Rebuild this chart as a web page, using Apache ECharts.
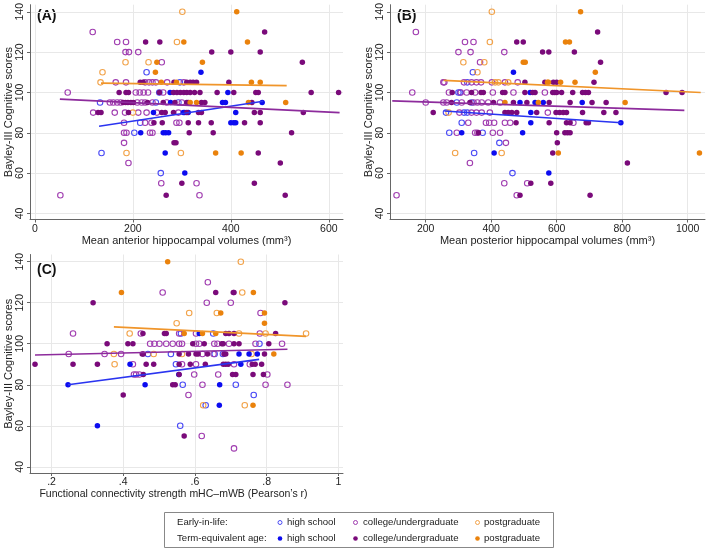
<!DOCTYPE html>
<html><head><meta charset="utf-8">
<script src="https://cdn.jsdelivr.net/npm/echarts@6/dist/echarts.min.js"></script>
<style>html,body{margin:0;padding:0;background:#fff}#c{width:709px;height:550px}</style>
</head><body><div id="c"></div>
<script>
// ---------- DATA ----------
const yTicks = [40, 60, 80, 100, 120, 140];
const xTicksA = [0, 200, 400, 600];
const xTicksB = [200, 400, 600, 800, 1000];
const xTicksC = [0.2, 0.4, 0.6, 0.8, 1.0];
const xTickLabelsC = ['.2', '.4', '.6', '.8', '1'];
const yTitle = 'Bayley-III Cognitive scores';
const xTitleA = 'Mean anterior hippocampal volumes (mm³)';
const xTitleB = 'Mean posterior hippocampal volumes (mm³)';
const xTitleC = 'Functional connectivity strength mHC–mWB (Pearson\u2019s r)';
const panelLabels = ['(A)', '(B)', '(C)'];
const groupNames = ['high school', 'college/undergraduate', 'postgraduate'];
const rowNames = ['Early-in-life:', 'Term-equivalent age:'];

// Panel A: [volume, score]
const A_earlyHigh = [[228,110],[296,105],[254,100],[133,95],[247,95],[293,95],[215,85],[203,80],[136,70],[257,60]];
const A_earlyCollege = [[118,130],[168,125],[186,125],[185,120],[192,120],[211,120],[259,115],[165,105],[186,105],[225,105],[233,105],[240,105],[247,105],[270,105],[304,105],[67,100],[206,100],[214,100],[222,100],[231,100],[262,100],[153,95],[160,95],[168,95],[175,95],[209,95],[218,95],[225,95],[240,95],[269,95],[300,95],[119,90],[163,90],[184,90],[211,90],[228,90],[249,90],[293,90],[182,85],[225,85],[238,85],[289,85],[295,85],[182,80],[187,80],[235,80],[240,80],[182,75],[191,65],[258,55],[330,55],[52,49],[336,49]];
const A_earlyPost = [[301,140],[290,125],[185,115],[232,115],[138,110],[134,105],[200,90],[187,70],[298,70]];
const A_termHigh = [[339,110],[276,100],[394,100],[277,95],[383,95],[389,95],[464,95],[242,90],[303,90],[306,90],[313,90],[410,90],[400,85],[406,85],[410,85],[216,80],[262,80],[267,80],[273,80],[266,70],[306,60]];
const A_termCollege = [[469,130],[226,125],[255,125],[361,120],[400,120],[460,120],[546,115],[215,105],[221,105],[284,105],[310,105],[317,105],[323,105],[330,105],[396,105],[172,100],[186,100],[191,100],[254,100],[283,100],[290,100],[297,100],[304,100],[310,100],[317,100],[326,100],[337,100],[372,100],[406,100],[451,100],[456,100],[564,100],[620,100],[180,95],[185,95],[190,95],[196,95],[201,95],[230,95],[262,95],[286,95],[310,95],[313,95],[340,95],[347,95],[443,95],[129,90],[135,90],[191,90],[259,90],[266,90],[283,90],[310,90],[334,90],[340,90],[448,90],[460,90],[548,90],[243,85],[260,85],[313,85],[334,85],[360,85],[428,85],[460,85],[315,80],[364,80],[524,80],[284,75],[288,75],[456,70],[501,65],[300,55],[448,55],[268,49],[511,49]];
const A_termPost = [[412,140],[304,125],[434,125],[249,115],[342,115],[246,110],[258,105],[289,105],[442,105],[460,105],[317,95],[330,95],[436,95],[512,95],[369,70],[421,70]];
const A_fitHigh = [[131,83.2],[466,95.6]];
const A_fitCollege = [[51,96.7],[622,90.0]];
const A_fitPost = [[135,104.6],[514,103.4]];

// Panel B
const B_earlyHigh = [[344,110],[327,105],[300,100],[305,100],[295,95],[340,95],[262,90],[317,90],[327,90],[310,85],[272,80],[374,80],[425,75],[348,70],[465,60]];
const B_earlyCollege = [[170,130],[320,125],[346,125],[300,120],[337,120],[440,120],[366,115],[254,105],[257,105],[317,105],[340,105],[355,105],[369,105],[402,105],[442,105],[481,105],[159,100],[271,100],[307,100],[325,100],[351,100],[405,100],[468,100],[564,100],[200,95],[254,95],[264,95],[310,95],[346,95],[358,95],[371,95],[391,95],[427,95],[303,90],[340,90],[355,90],[371,90],[396,90],[573,90],[330,85],[384,85],[394,85],[409,85],[442,85],[458,85],[651,85],[295,80],[351,80],[358,80],[405,80],[427,80],[445,75],[335,65],[440,55],[510,55],[111,49],[478,49]];
const B_earlyPost = [[402,140],[396,125],[315,115],[379,115],[358,110],[412,105],[422,105],[452,105],[270,90],[290,70],[432,70]];
const B_termHigh = [[468,110],[519,100],[488,95],[534,95],[559,95],[678,95],[521,90],[521,85],[796,85],[310,80],[496,80],[409,70],[576,60]];
const B_termCollege = [[725,130],[478,125],[498,125],[557,120],[576,120],[654,120],[734,115],[503,105],[564,105],[590,105],[600,105],[714,105],[281,100],[340,100],[369,100],[376,100],[435,100],[442,100],[503,100],[527,100],[534,100],[588,100],[594,100],[600,100],[615,100],[649,100],[679,100],[688,100],[697,100],[934,100],[983,100],[279,95],[335,95],[407,95],[468,95],[509,95],[577,95],[641,95],[708,95],[751,95],[223,90],[442,90],[452,90],[463,90],[478,90],[539,90],[598,90],[609,90],[620,90],[630,90],[679,90],[744,90],[781,90],[476,85],[577,85],[630,85],[641,85],[690,85],[697,85],[361,80],[600,80],[625,80],[633,80],[641,80],[602,75],[588,70],[816,65],[521,55],[582,55],[488,49],[702,49]];
const B_termPost = [[673,140],[627,125],[639,125],[498,115],[504,115],[718,110],[572,105],[575,105],[612,105],[656,105],[442,95],[544,95],[809,95],[605,70],[1036,70]];
const B_fitHigh = [[257,90.8],[798,85.0]];
const B_fitCollege = [[98,95.8],[990,91.1]];
const B_fitPost = [[255,106.0],[1040,100.0]];

// Panel C
const C_earlyHigh = [[0.561,105],[0.651,105],[0.78,100],[0.469,95],[0.533,95],[0.655,95],[0.678,95],[0.547,90],[0.566,80],[0.714,80],[0.764,75],[0.63,70],[0.559,60]];
const C_earlyCollege = [[0.636,130],[0.51,125],[0.633,120],[0.70,120],[0.783,115],[0.26,105],[0.449,105],[0.556,105],[0.603,105],[0.781,105],[0.475,100],[0.487,100],[0.501,100],[0.52,100],[0.538,100],[0.556,100],[0.564,100],[0.603,100],[0.612,100],[0.654,100],[0.663,100],[0.695,100],[0.769,100],[0.843,100],[0.248,95],[0.348,95],[0.394,95],[0.621,95],[0.652,95],[0.427,90],[0.564,90],[0.603,90],[0.709,90],[0.753,90],[0.43,85],[0.436,85],[0.445,85],[0.598,85],[0.665,85],[0.802,85],[0.621,80],[0.797,80],[0.858,80],[0.582,75],[0.619,55],[0.709,49]];
const C_earlyPost = [[0.728,140],[0.732,125],[0.584,115],[0.661,115],[0.549,110],[0.418,105],[0.723,105],[0.797,105],[0.91,105],[0.374,95],[0.485,95],[0.564,95],[0.758,95],[0.376,90],[0.623,70],[0.739,70]];
const C_termHigh = [[0.612,105],[0.723,95],[0.751,95],[0.774,95],[0.419,90],[0.728,90],[0.555,85],[0.246,80],[0.461,80],[0.669,80],[0.668,70],[0.328,60]];
const C_termCollege = [[0.658,125],[0.707,125],[0.709,125],[0.316,120],[0.851,120],[0.455,105],[0.515,105],[0.52,105],[0.686,105],[0.695,105],[0.709,105],[0.825,105],[0.355,100],[0.413,100],[0.427,100],[0.594,100],[0.626,100],[0.675,100],[0.679,100],[0.709,100],[0.723,100],[0.806,100],[0.453,95],[0.456,95],[0.556,95],[0.582,95],[0.603,95],[0.609,95],[0.635,95],[0.681,95],[0.686,95],[0.794,95],[0.154,90],[0.26,90],[0.328,90],[0.464,90],[0.485,90],[0.556,90],[0.587,90],[0.629,90],[0.679,90],[0.686,90],[0.693,90],[0.76,90],[0.768,90],[0.786,90],[0.456,85],[0.556,85],[0.705,85],[0.714,85],[0.762,85],[0.791,85],[0.538,80],[0.545,80],[0.4,75],[0.57,55]];
const C_termPost = [[0.524,140],[0.395,125],[0.763,125],[0.672,115],[0.794,115],[0.794,110],[0.57,105],[0.621,105],[0.658,105],[0.82,95],[0.762,70]];
const C_fitHigh = [[0.246,80.0],[0.779,92.4]];
const C_fitCollege = [[0.154,94.5],[0.858,97.3]];
const C_fitPost = [[0.374,108.2],[0.91,103.6]];

// ---------- STYLE ----------
const hollowCol = ['#4a4af5', '#a03db0', '#f2a34a'];
const filledCol = ['#0c0cf0', '#7a0a7a', '#ea820c'];
const lineCol = ['#2a34f0', '#8d2b9c', '#f0952a'];
const FONT = 'Liberation Sans, Arial, sans-serif';
const axisCol = '#666';
const gridCol = '#e8e8e8';

const chart = echarts.init(document.getElementById('c'), null, {renderer: 'canvas'});

const grids = [
  {left: 30, top: 0, width: 313, height: 219.5},
  {left: 390, top: 0, width: 315, height: 219.5},
  {left: 30, top: 254.5, width: 313, height: 218.5}
];
const xRanges = [[-10, 629], [91, 1053], [0.14, 1.013]];
const xTickSets = [xTicksA, xTicksB, xTicksC];
const xTitles = [xTitleA, xTitleB, xTitleC];

function xAxisFor(i) {
  return {
    type: 'value', gridIndex: i, min: xRanges[i][0], max: xRanges[i][1],
    name: xTitles[i], nameLocation: 'middle', nameGap: 13,
    nameTextStyle: i === 2
      ? {fontFamily: FONT, fontSize: 10.5, color: '#222', padding: [0, 26, 0, 0]}
      : {fontFamily: FONT, fontSize: 11, color: '#222'},
    axisLine: {show: true, onZero: false, lineStyle: {color: axisCol, width: 1}},
    axisTick: {show: true, length: 3, customValues: xTickSets[i], lineStyle: {color: axisCol}},
    axisLabel: {customValues: xTickSets[i], margin: 4, fontFamily: FONT, fontSize: 10.5, color: '#222',
      formatter: v => i === 2 ? xTickLabelsC[xTicksC.findIndex(t => Math.abs(t - v) < 1e-6)] : String(v)},
    splitLine: {show: true, lineStyle: {color: gridCol, width: 1}}
  };
}
function yAxisFor(i) {
  return {
    type: 'value', gridIndex: i, min: 37, max: 143.5,
    name: yTitle, nameLocation: 'middle', nameGap: 16, nameRotate: 90,
    nameTextStyle: {fontFamily: FONT, fontSize: 11, color: '#222'},
    axisLine: {show: true, onZero: false, lineStyle: {color: axisCol, width: 1}},
    axisTick: {show: true, length: 3, customValues: yTicks, lineStyle: {color: axisCol}},
    axisLabel: {customValues: yTicks, rotate: 90, margin: 4, fontFamily: FONT, fontSize: 10.5, color: '#222'},
    splitLine: {show: true, lineStyle: {color: gridCol, width: 1}}
  };
}

const panels = [
  [A_earlyHigh, A_earlyCollege, A_earlyPost, A_termHigh, A_termCollege, A_termPost, A_fitHigh, A_fitCollege, A_fitPost],
  [B_earlyHigh, B_earlyCollege, B_earlyPost, B_termHigh, B_termCollege, B_termPost, B_fitHigh, B_fitCollege, B_fitPost],
  [C_earlyHigh, C_earlyCollege, C_earlyPost, C_termHigh, C_termCollege, C_termPost, C_fitHigh, C_fitCollege, C_fitPost]
];

const series = [];
panels.forEach((p, i) => {
  for (let g = 0; g < 3; g++) {
    series.push({
      type: 'scatter', xAxisIndex: i, yAxisIndex: i, data: p[g], symbol: 'circle', symbolSize: 5.5,
      itemStyle: {color: 'rgba(255,255,255,0)', borderColor: hollowCol[g], borderWidth: 1.1, opacity: 1},
      emphasis: {disabled: true}, silent: true, animation: false
    });
  }
  for (let g = 0; g < 3; g++) {
    series.push({
      type: 'scatter', xAxisIndex: i, yAxisIndex: i, data: p[3 + g], symbol: 'circle', symbolSize: 5.5,
      itemStyle: {color: filledCol[g], borderWidth: 0, opacity: 1},
      emphasis: {disabled: true}, silent: true, animation: false
    });
  }
  for (let g = 0; g < 3; g++) {
    series.push({
      type: 'line', xAxisIndex: i, yAxisIndex: i, data: p[6 + g], showSymbol: false, symbol: 'none',
      lineStyle: {color: lineCol[g], width: 1.6}, silent: true, animation: false, z: 3
    });
  }
});

// Panel letters and legend (graphic)
const graphic = [];
const labelPos = [[37, 9], [397, 9], [37, 263]];
panelLabels.forEach((t, i) => graphic.push({
  type: 'text', left: labelPos[i][0], top: labelPos[i][1],
  style: {text: t, font: 'bold 14px ' + FONT, fill: '#111'}
}));
graphic.push({type: 'rect', shape: {x: 164.5, y: 512.5, width: 389, height: 35},
  style: {fill: 'none', stroke: '#888', lineWidth: 1}});
const rowY = [522.5, 538.5];
const markX = [280, 355.5, 477.5];
const textX = [287, 363, 484];
rowNames.forEach((r, ri) => {
  graphic.push({type: 'text', x: 177, y: rowY[ri],
    style: {text: r, font: '9.6px ' + FONT, fill: '#222', verticalAlign: 'middle'}});
  for (let g = 0; g < 3; g++) {
    graphic.push({type: 'circle', shape: {cx: markX[g], cy: rowY[ri], r: ri === 0 ? 2 : 2.3},
      style: ri === 0 ? {fill: 'none', stroke: hollowCol[g], lineWidth: 1} : {fill: filledCol[g]}});
    graphic.push({type: 'text', x: textX[g], y: rowY[ri],
      style: {text: groupNames[g], font: '9.6px ' + FONT, fill: '#222', verticalAlign: 'middle'}});
  }
});

chart.setOption({
  animation: false,
  backgroundColor: '#fff',
  grid: grids,
  xAxis: [0, 1, 2].map(xAxisFor),
  yAxis: [0, 1, 2].map(yAxisFor),
  series: series,
  graphic: graphic
});
</script>
</body></html>
